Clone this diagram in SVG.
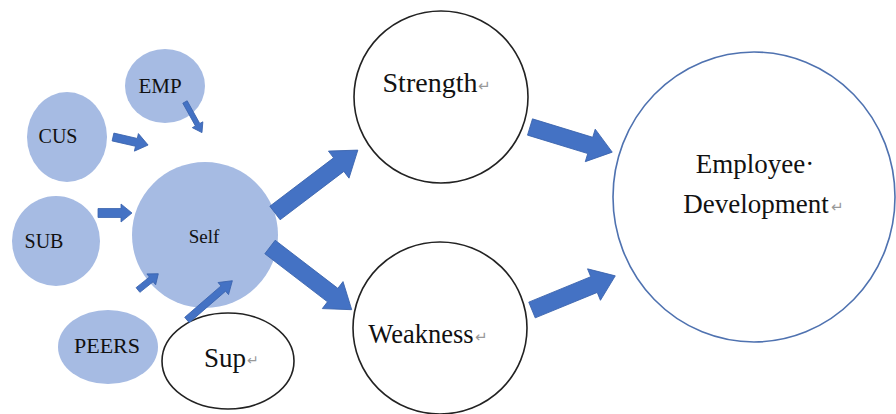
<svg xmlns="http://www.w3.org/2000/svg" width="896" height="414" viewBox="0 0 896 414">
<style>
.lb{fill:#a6bbe3;stroke:none}
.wc{fill:#fff;stroke:#222;stroke-width:1.6}
.ed{fill:#fff;stroke:#4f72b0;stroke-width:1.6}
.t{font-family:"Liberation Serif","Times New Roman",serif;fill:#111;text-anchor:middle}
.rt{font-family:"DejaVu Sans",sans-serif;fill:#999}
.ar{fill:#4472c4;stroke:#3a63ad;stroke-width:0.8}
</style>
<rect width="896" height="414" fill="#fff"/>
<g id="emp"><ellipse class="lb" cx="165" cy="86" rx="40" ry="37"/><text class="t" x="160" y="93" font-size="21">EMP</text></g>
<g id="cus"><ellipse class="lb" cx="67" cy="137" rx="40" ry="45"/><text class="t" x="58" y="143" font-size="20">CUS</text></g>
<g id="sub"><ellipse class="lb" cx="56" cy="241" rx="44" ry="45"/><text class="t" x="44" y="248" font-size="20">SUB</text></g>
<g id="self"><ellipse class="lb" cx="205" cy="235" rx="73" ry="73"/><text class="t" x="204" y="243" font-size="19">Self</text></g>
<g id="peers"><ellipse class="lb" cx="108" cy="347" rx="50" ry="37"/><text class="t" x="107" y="353" font-size="22">PEERS</text></g>
<g id="sup"><ellipse class="wc" cx="228" cy="361" rx="66" ry="48"/><text class="t" x="225" y="367" font-size="27">Sup</text><text class="rt" x="247" y="365" font-size="14">↵</text></g>
<g id="strength"><ellipse class="wc" cx="441" cy="97" rx="87" ry="86"/><text class="t" x="430" y="92" font-size="28">Strength</text><text class="rt" x="478" y="91" font-size="15">↵</text></g>
<g id="weakness"><ellipse class="wc" cx="440" cy="328" rx="87" ry="86"/><text class="t" x="421" y="343" font-size="26.5">Weakness</text><text class="rt" x="475" y="342" font-size="15">↵</text></g>
<g id="employee-development"><ellipse class="ed" cx="754" cy="197" rx="141" ry="145"/><text class="t" x="755" y="173" font-size="27">Employee·</text><text class="t" x="756" y="213" font-size="27">Development</text><text class="rt" x="831" y="212" font-size="15">↵</text></g>
<g id="connectors">
<path class="ar" transform="translate(113,137) rotate(12.9)" d="M0,-4 L24,-4 L24,-9 L36,0 L24,9 L24,4 L0,4 Z"/>
<path class="ar" transform="translate(185,102) rotate(61)" d="M0,-2.5 L26,-2.5 L26,-6 L35,0 L26,6 L26,2.5 L0,2.5 Z"/>
<path class="ar" transform="translate(98,213) rotate(0)" d="M0,-4.5 L23,-4.5 L23,-9 L34,0 L23,9 L23,4.5 L0,4.5 Z"/>
<path class="ar" transform="translate(138,290) rotate(-38.7)" d="M0,-3 L17,-3 L17,-7 L26,0 L17,7 L17,3 L0,3 Z"/>
<path class="ar" transform="translate(187,320) rotate(-40.9)" d="M0,-3.5 L48,-3.5 L48,-8 L60,0 L48,8 L48,3.5 L0,3.5 Z"/>
<path class="ar" transform="translate(275,213) rotate(-37.2)" d="M0,-8.5 L80,-8.5 L80,-17 L104,0 L80,17 L80,8.5 L0,8.5 Z"/>
<path class="ar" transform="translate(270,247) rotate(37.5)" d="M0,-8.5 L79,-8.5 L79,-17 L103,0 L79,17 L79,8.5 L0,8.5 Z"/>
<path class="ar" transform="translate(530,127) rotate(17)" d="M0,-8.5 L63,-8.5 L63,-17 L86,0 L63,17 L63,8.5 L0,8.5 Z"/>
<path class="ar" transform="translate(532,310) rotate(-22.3)" d="M0,-8.5 L67,-8.5 L67,-17 L90,0 L67,17 L67,8.5 L0,8.5 Z"/>
</g>
</svg>
